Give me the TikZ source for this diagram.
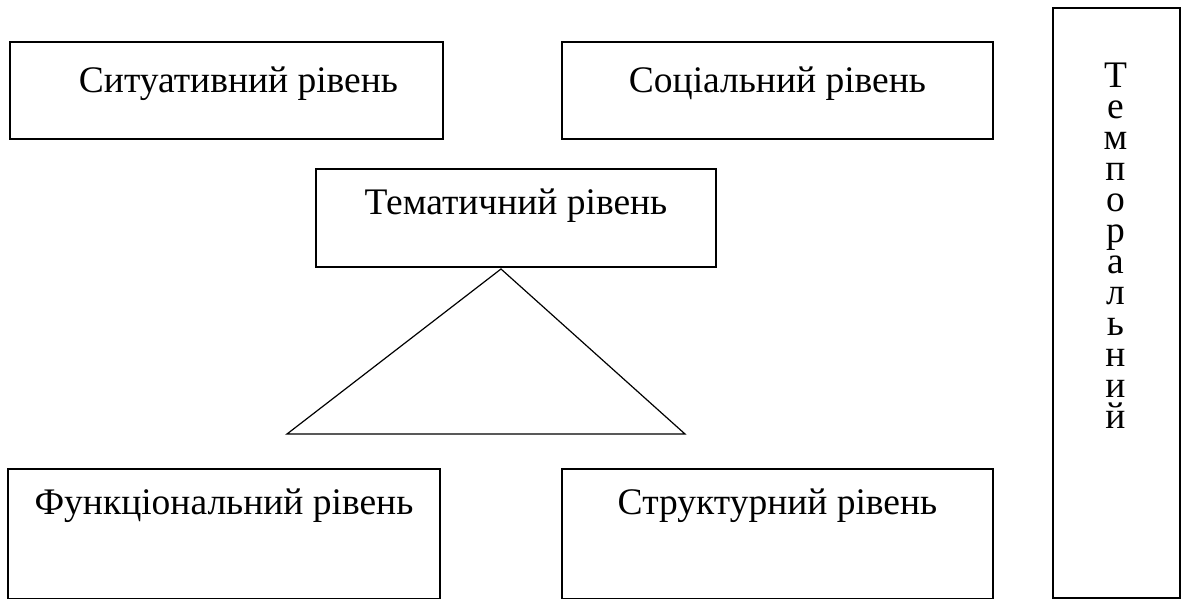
\documentclass[tikz,border=0pt]{standalone}
\usepackage{fontspec}
\setmainfont{Liberation Serif}
\usetikzlibrary{calc}
\begin{document}
\begin{tikzpicture}[x=1pt,y=-1pt,
  box/.style={draw=black,line width=1.6pt,inner sep=0pt},
  lbl/.style={anchor=base,inner sep=0pt,font=\fontsize{37.5}{31}\selectfont},
  edge/.style={draw=black,line width=1.2pt}]
\useasboundingbox (0,0) rectangle (1188,599);
\fill[white] (0,0) rectangle (1188,599);
% level boxes
\node[box,minimum width=433pt,minimum height=97pt] (sit) at (226.5,90.5) {};
\node[box,minimum width=431pt,minimum height=97pt] (soc) at (777.5,90.5) {};
\node[box,minimum width=400pt,minimum height=98pt] (tem) at (516,218) {};
\node[box,minimum width=432pt,minimum height=130pt] (fun) at (224,534) {};
\node[box,minimum width=431pt,minimum height=130pt] (str) at (777.5,534) {};
\node[box,minimum width=127pt,minimum height=590pt] (tmp) at (1116.5,303) {};
% captions
\node[lbl] at ($(sit.north)+(12,51)$) {Ситуативний рівень};
\node[lbl] at ($(soc.north)+(0,51)$) {Соціальний рівень};
\node[lbl] at ($(tem.north)+(0,46)$) {Тематичний рівень};
\node[lbl] at ($(fun.north)+(0,46)$) {Функціональний рівень};
\node[lbl] at ($(str.north)+(0,46)$) {Структурний рівень};
% vertical caption, one letter per line
\node[lbl,anchor=north,align=center] (tmptxt) at ($(tmp.north)+(-1,56)$)
  {Т\\е\\м\\п\\о\\р\\а\\л\\ь\\н\\и\\й};
% triangle under the thematic level
\coordinate (apex) at (501,269);
\coordinate (bl) at (287,434);
\coordinate (br) at (685,434);
\draw[edge,line join=miter] (apex) -- (bl) -- (br) -- cycle;
\end{tikzpicture}
\end{document}
